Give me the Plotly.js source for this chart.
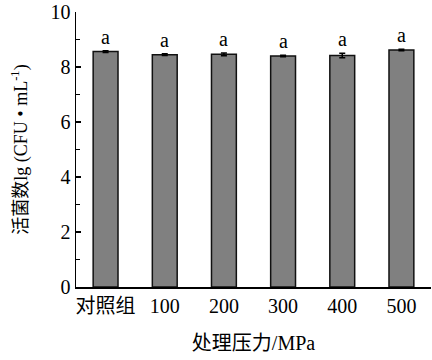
<!DOCTYPE html>
<html>
<head>
<meta charset="utf-8">
<script src="https://cdn.plot.ly/plotly-3.0.1.min.js"></script>
<style>html,body{margin:0;padding:0;background:#fff;}#chart{width:432px;height:360px;}</style>
</head>
<body>
<div id="chart"></div>
<script>
const categories = ['对照组', '100', '200', '300', '400', '500'];
const values = [8.56, 8.45, 8.46, 8.40, 8.42, 8.62];
const errors = [0.03, 0.03, 0.05, 0.03, 0.08, 0.03];
const letters = ['a', 'a', 'a', 'a', 'a', 'a'];
const yTickVals = [0, 2, 4, 6, 8, 10];

const FONT = 'Liberation Serif, Times New Roman, Noto Sans CJK SC, serif';

const trace = {
  type: 'bar',
  x: categories,
  y: values,
  width: 0.42,
  marker: {color: '#808080', line: {color: '#111', width: 1.5}},
  error_y: {type: 'data', array: errors, visible: true, color: '#000', thickness: 1.5, width: 3}
};

const annotations = categories.map((c, i) => ({
  x: i, y: values[i] + errors[i], xref: 'x', yref: 'y',
  text: letters[i], showarrow: false, yanchor: 'bottom', yshift: 1,
  font: {family: FONT, size: 20, color: '#000'}
}));

const layout = {
  width: 432, height: 360,
  margin: {l: 76, r: 1, t: 12, b: 73},
  paper_bgcolor: '#fff', plot_bgcolor: '#fff',
  showlegend: false,
  font: {family: FONT, size: 19, color: '#000'},
  xaxis: {
    type: 'category', range: [-0.5, 5.5],
    showline: true, linecolor: '#000', linewidth: 1.5,
    ticks: '', showgrid: false, zeroline: false,
    tickfont: {family: FONT, size: 20, color: '#000'},
    title: {text: '处理压力/MPa', font: {family: FONT, size: 20, color: '#000'}, standoff: 20}
  },
  yaxis: {
    range: [0, 10], tickvals: yTickVals, ticktext: yTickVals.map(String),
    showline: true, linecolor: '#000', linewidth: 1.5,
    ticks: 'inside', ticklen: 5, tickwidth: 1.2, tickcolor: '#000',
    minor: {tickvals: [1, 3, 5, 7, 9], ticks: 'inside', ticklen: 4, tickwidth: 1.2, tickcolor: '#000'},
    showgrid: false, zeroline: false,
    tickfont: {family: FONT, size: 20, color: '#000'},
    title: {text: '活菌数lg (CFU • mL<sup>-1</sup>)', font: {family: FONT, size: 18, color: '#000'}, standoff: 18}
  },
  annotations: annotations
};

Plotly.newPlot('chart', [trace], layout, {displayModeBar: false, staticPlot: true});
</script>
</body>
</html>
